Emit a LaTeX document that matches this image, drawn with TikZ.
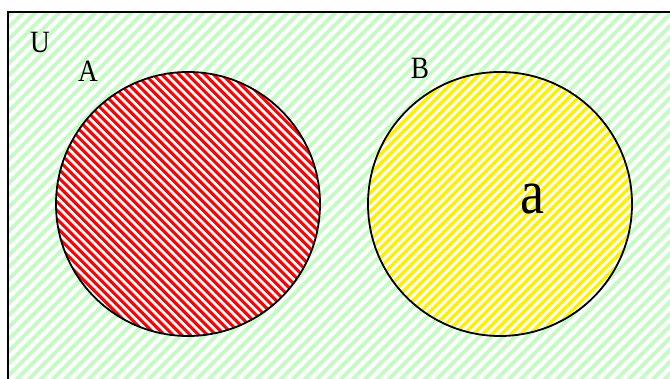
\documentclass[tikz,border=0pt]{standalone}
\usepackage{fontspec}
\setmainfont{Liberation Serif}
\begin{document}
\begin{tikzpicture}[x=1pt,y=-1pt,
  lbl/.style={inner sep=0pt,anchor=base,font=\fontsize{31}{33}\selectfont,xscale=0.88,transform shape},
  biglbl/.style={inner sep=0pt,anchor=base,font=\fontsize{63}{66}\selectfont,xscale=0.86,transform shape},
  outline/.style={draw=black,line width=1.8pt}]
\useasboundingbox (0,0) rectangle (670,379);
\definecolor{lgreen}{RGB}{200,250,200}
\definecolor{yel}{RGB}{255,240,0}
% universe
\fill[white] (8,12) rectangle (680,390);
\begin{scope}
  \clip (8,12) rectangle (680,390);
  \foreach \c in {0,12,...,1100} {
    \draw[lgreen,line width=4.2pt] (\c,0) -- (\c-420,420);
  }
\end{scope}
\draw[black,line width=1.5pt] (680,12) -- (8,12) -- (8,390);
% circle A
\coordinate (ca) at (188,204);
\coordinate (cb) at (500,204);
\fill[white] (ca) circle (132);
\begin{scope}
  \clip (ca) circle (132);
  \foreach \c in {-420,-411.4,...,700} {
    \draw[red,line width=3.1pt] (\c,0) -- (\c+420,420);
  }
\end{scope}
\draw[outline] (ca) circle (132);
% circle B
\fill[white] (cb) circle (132);
\begin{scope}
  \clip (cb) circle (132);
  \foreach \c in {300,309.4,...,1100} {
    \draw[yel,line width=3.4pt] (\c,0) -- (\c-420,420);
  }
\end{scope}
\draw[outline] (cb) circle (132);
% labels
\node[lbl] (u) at (40,53) {U};
\node[lbl] (la) at (88,82) {A};
\node[lbl] (lb) at (420,79) {B};
\node[biglbl] (sa) at (533,214) {a};
\end{tikzpicture}
\end{document}
